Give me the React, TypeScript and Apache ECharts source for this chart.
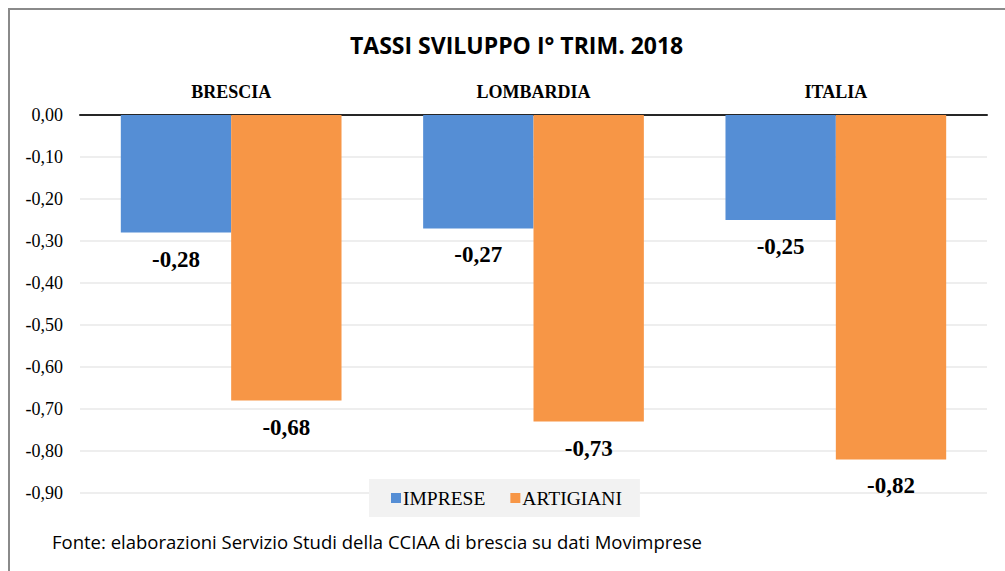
import React, { useEffect, useRef } from "react";
import * as echarts from "echarts";

const categories = ["BRESCIA", "LOMBARDIA", "ITALIA"];
const impreseValues = [-0.28, -0.27, -0.25];
const artigianiValues = [-0.68, -0.73, -0.82];
const seriesNames = ["IMPRESE", "ARTIGIANI"];
const titleText = "TASSI SVILUPPO I° TRIM. 2018";
const sourceText = "Fonte: elaborazioni Servizio Studi della CCIAA di brescia su dati Movimprese";

const SERIF = '"Liberation Serif", "Times New Roman", serif';
const SANS = '"Open Sans", "Noto Sans", sans-serif';

const fmt = (v: number) => v.toFixed(2).replace(".", ",");

export default function App() {
  const ref = useRef<HTMLDivElement>(null);
  useEffect(() => {
    if (!ref.current) return;
    const chart = echarts.init(ref.current, null, { renderer: "svg" });
    const labelStyle = {
      show: true,
      position: "bottom" as const,
      distance: 15,
      fontFamily: SERIF,
      fontWeight: "bold" as const,
      fontSize: 23,
      color: "#000",
      formatter: (p: any) => fmt(p.value),
    };
    chart.setOption({
      animation: false,
      backgroundColor: "#ffffff",
      title: {
        text: titleText,
        left: 345,
        top: 28,
        textStyle: { fontFamily: SANS, fontWeight: "bold", fontSize: 23, color: "#000" },
      },
      grid: { left: 80, right: 18, top: 115, bottom: 78, containLabel: false },
      legend: {
        data: seriesNames,
        left: 369,
        top: 479,
        backgroundColor: "#f2f2f2",
        padding: [9, 18, 9, 22],
        itemGap: 25,
        itemWidth: 10,
        itemHeight: 10,
        icon: "rect",
        textStyle: { fontFamily: SERIF, fontSize: 19.5, color: "#000", padding: [0, 0, 0, -3] },
      },
      xAxis: {
        type: "category",
        position: "top",
        data: categories,
        axisLine: { lineStyle: { color: "#262626", width: 2 } },
        axisTick: { show: false },
        axisLabel: { fontFamily: SERIF, fontWeight: "bold", fontSize: 18, color: "#000", margin: 14 },
      },
      yAxis: {
        type: "value",
        min: -0.9,
        max: 0,
        interval: 0.1,
        axisLine: { show: false },
        axisTick: { show: false },
        splitLine: { lineStyle: { color: "#e8e8e8", width: 1.5 } },
        axisLabel: {
          fontFamily: SERIF,
          fontSize: 18,
          color: "#000",
          margin: 17,
          formatter: (v: number) => fmt(v),
        },
      },
      series: [
        {
          name: seriesNames[0],
          type: "bar",
          data: impreseValues,
          barGap: "0%",
          barCategoryGap: "27%",
          itemStyle: { color: "#558ed5" },
          label: labelStyle,
        },
        {
          name: seriesNames[1],
          type: "bar",
          data: artigianiValues,
          barGap: "0%",
          barCategoryGap: "27%",
          itemStyle: { color: "#f79646" },
          label: labelStyle,
        },
      ],
      graphic: [
        {
          type: "line",
          shape: { x1: 9, y1: 8, x2: 9, y2: 571 },
          style: { stroke: "#8a8a8a", lineWidth: 2 },
        },
        {
          type: "line",
          shape: { x1: 8, y1: 9, x2: 1005, y2: 9 },
          style: { stroke: "#8a8a8a", lineWidth: 2 },
        },
        {
          type: "text",
          left: 52,
          top: 532,
          style: { text: sourceText, fontFamily: SANS, fontSize: 18.5, fill: "#000" },
        },
      ],
    });
    return () => chart.dispose();
  }, []);
  return (
    <div
      ref={ref}
      style={{ position: "absolute", left: 0, top: 0, width: 1005, height: 571 }}
    />
  );
}
